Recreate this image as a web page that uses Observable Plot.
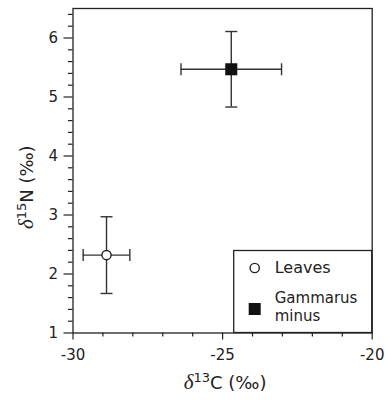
<!DOCTYPE html>
<html><head><meta charset="utf-8">
<script src="https://cdn.jsdelivr.net/npm/d3@7"></script>
<script src="https://cdn.jsdelivr.net/npm/@observablehq/plot@0.6"></script>
<style>body{margin:0;background:#fff}</style>
</head><body><div id="chart"></div>
<script>
const groups = ["Leaves", "Gammarus minus"];
const d13C = [-28.88, -24.71];
const d13CErr = [0.78, 1.68];
const d15N = [2.32, 5.47];
const d15NErr = [0.65, 0.64];
const xMajorTicks = [-30, -25, -20];
const xMinorTicks = [-29, -28, -27, -26, -24, -23, -22, -21];
const yMajorTicks = [1, 2, 3, 4, 5, 6];
const yMinorTicks = [1.2, 1.4, 1.6, 1.8, 2.2, 2.4, 2.6, 2.8, 3.2, 3.4, 3.6, 3.8,
  4.2, 4.4, 4.6, 4.8, 5.2, 5.4, 5.6, 5.8, 6.2, 6.4];

const data = groups.map((g, i) => ({g, x: d13C[i], xe: d13CErr[i], y: d15N[i], ye: d15NErr[i]}));

const INK = "#222";
const FONT = "'DejaVu Sans', sans-serif";
const vCap = {draw(ctx) { ctx.moveTo(0, -6); ctx.lineTo(0, 6); }};
const hCap = {draw(ctx) { ctx.moveTo(-6, 0); ctx.lineTo(6, 0); }};

const chart = Plot.plot({
  width: 385, height: 400,
  marginLeft: 72.5, marginRight: 13.3, marginTop: 8, marginBottom: 67.5,
  style: {fontFamily: FONT, fontSize: "15px", color: INK, background: "white"},
  x: {domain: [-30, -20]},
  y: {domain: [1, 6.5]},
  marks: [
    Plot.frame({stroke: INK, strokeWidth: 1.3}),
    Plot.axisX({ticks: xMajorTicks, tickSize: 7, tickPadding: 9, tickFormat: d => String(d), fontSize: 15, label: null, strokeWidth: 1.2}),
    Plot.axisX({ticks: xMinorTicks, tickSize: 4, tickFormat: () => "", label: null, strokeWidth: 1.2}),
    Plot.axisY({ticks: yMajorTicks, tickSize: 9, tickPadding: 6, tickFormat: d => String(d), fontSize: 15, label: null, strokeWidth: 1.2}),
    Plot.axisY({ticks: yMinorTicks, tickSize: 4.5, tickFormat: () => "", label: null, strokeWidth: 1.2}),
    Plot.ruleY(data, {y: "y", x1: d => d.x - d.xe, x2: d => d.x + d.xe, stroke: "#333", strokeWidth: 1.4}),
    Plot.ruleX(data, {x: "x", y1: d => d.y - d.ye, y2: d => d.y + d.ye, stroke: "#333", strokeWidth: 1.4}),
    Plot.dot(data, {x: d => d.x - d.xe, y: "y", symbol: vCap, r: 6, fill: "none", stroke: "#333", strokeWidth: 1.4}),
    Plot.dot(data, {x: d => d.x + d.xe, y: "y", symbol: vCap, r: 6, fill: "none", stroke: "#333", strokeWidth: 1.4}),
    Plot.dot(data, {x: "x", y: d => d.y - d.ye, symbol: hCap, r: 6, fill: "none", stroke: "#333", strokeWidth: 1.4}),
    Plot.dot(data, {x: "x", y: d => d.y + d.ye, symbol: hCap, r: 6, fill: "none", stroke: "#333", strokeWidth: 1.4}),
    Plot.dot(data.filter(d => d.g === "Leaves"), {x: "x", y: "y", r: 4.6, fill: "white", stroke: INK, strokeWidth: 1.4}),
    Plot.dot(data.filter(d => d.g !== "Leaves"), {x: "x", y: "y", symbol: "square", r: 6.8, fill: "#111", stroke: "none"})
  ]
});
document.getElementById("chart").append(chart);

const sx = chart.scale("x"), sy = chart.scale("y");
const svg = d3.select(chart);
const pRight = sx.apply(-20), pLeft = sx.apply(-30), pBottom = sy.apply(1), pTop = sy.apply(6.5);

// Axis titles
const xt = svg.append("text").attr("x", (pLeft + pRight) / 2 + 3).attr("y", pBottom + 56)
  .attr("text-anchor", "middle").attr("font-family", FONT).attr("font-size", 18).attr("fill", INK);
xt.append("tspan").attr("font-family", "'Liberation Serif', serif").attr("font-style", "italic").attr("font-size", 21).text("δ");
xt.append("tspan").attr("font-size", 13).attr("dy", -7).text("13");
xt.append("tspan").attr("dy", 7).text("C (‰)");

const yt = svg.append("text").attr("transform", `translate(${pLeft - 40},${(pTop + pBottom) / 2 + 17}) rotate(-90)`)
  .attr("text-anchor", "middle").attr("font-family", FONT).attr("font-size", 18).attr("fill", INK);
yt.append("tspan").attr("font-family", "'Liberation Serif', serif").attr("font-style", "italic").attr("font-size", 21).text("δ");
yt.append("tspan").attr("font-size", 13).attr("dy", -7).text("15");
yt.append("tspan").attr("dy", 7).text("N (‰)");

// Legend
const bw = 138, bh = 82;
const lg = svg.append("g").attr("transform", `translate(${pRight - bw},${pBottom - bh})`)
  .attr("text-anchor", "start").attr("font-family", FONT);
lg.append("rect").attr("width", bw).attr("height", bh).attr("fill", "white").attr("stroke", INK).attr("stroke-width", 1.3);
lg.append("circle").attr("cx", 21).attr("cy", 17.5).attr("r", 4.6).attr("fill", "white").attr("stroke", INK).attr("stroke-width", 1.4);
lg.append("text").attr("x", 41).attr("y", 22).attr("font-size", 16).attr("fill", INK).text("Leaves");
lg.append("rect").attr("x", 15).attr("y", 52.5).attr("width", 12).attr("height", 12).attr("fill", "#111");
lg.append("text").attr("x", 41).attr("y", 52.5).attr("font-size", 15).attr("fill", INK).text("Gammarus");
lg.append("text").attr("x", 41).attr("y", 70).attr("font-size", 15).attr("fill", INK).text("minus");
</script>
</body></html>
